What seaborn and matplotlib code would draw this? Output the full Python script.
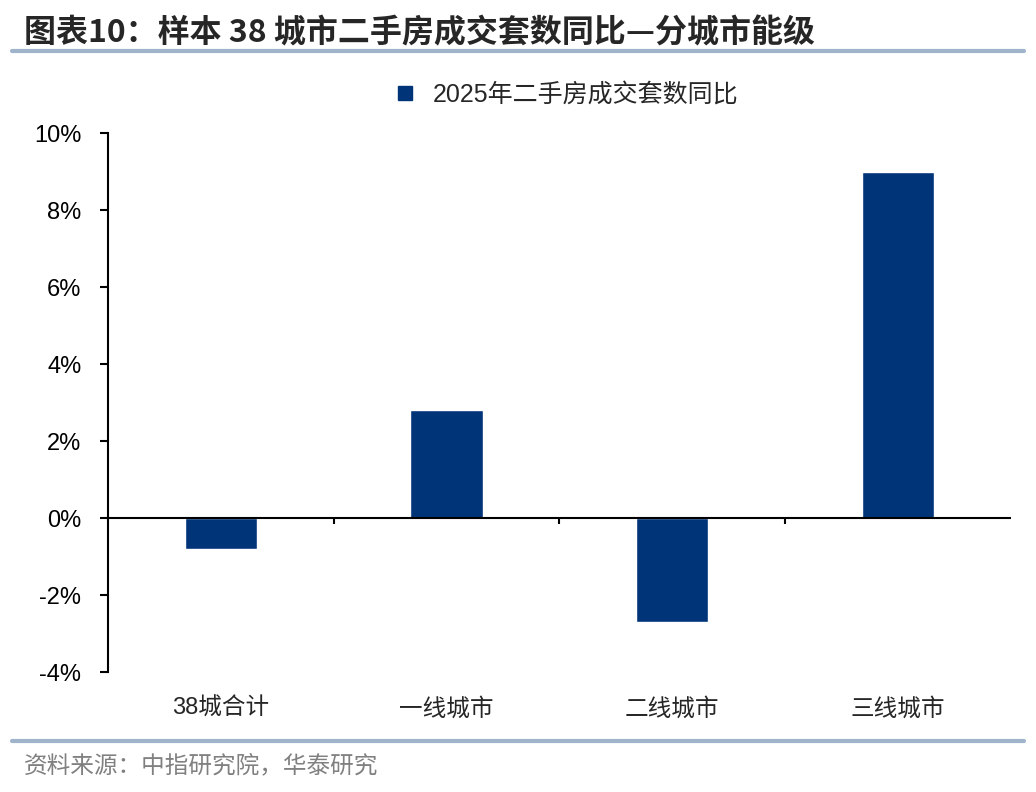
import pandas as pd
import seaborn as sns
import matplotlib.pyplot as plt
from matplotlib.lines import Line2D
from matplotlib.ticker import FuncFormatter

categories = ['38城合计', '一线城市', '二线城市', '三线城市']
yoy_2025 = [-0.8, 2.8, -2.7, 9.0]
series_name = '2025年二手房成交套数同比'
yticks = [-4, -2, 0, 2, 4, 6, 8, 10]

sns.set_theme(style='white')
plt.rcParams['font.family'] = ['Liberation Sans', 'Noto Sans CJK SC', 'DejaVu Sans']
plt.rcParams['axes.unicode_minus'] = False

navy = '#003478'
df = pd.DataFrame({'city': categories, 'yoy': yoy_2025})

fig = plt.figure(figsize=(10.36, 7.92), dpi=100)
ax = fig.add_axes([0.104, 0.151, 0.872, 0.681])

sns.barplot(data=df, x='city', y='yoy', color=navy, width=0.32, saturation=1, ax=ax)

ax.set_xlim(-0.5, len(categories) - 0.5)
ax.set_ylim(-4, 10)
ax.set_yticks(yticks)
ax.yaxis.set_major_formatter(FuncFormatter(lambda v, p: f'{v:.0f}%'))
ax.set_xlabel('')
ax.set_ylabel('')

for s in ['top', 'right', 'bottom']:
    ax.spines[s].set_visible(False)
ax.spines['left'].set_color('black')
ax.spines['left'].set_linewidth(1.5)

ax.axhline(0, color='black', lw=1.5, zorder=3)
ax.vlines([0.5, 1.5, 2.5], -0.15, 0, color='black', lw=1.5, zorder=3)

ax.tick_params(axis='y', left=True, length=6, width=1.5, direction='out',
               labelsize=17, colors='black', pad=13)
ax.tick_params(axis='x', bottom=False, labelsize=17, pad=12)
for lab in ax.get_xticklabels():
    lab.set_family(['Liberation Sans', 'Noto Sans CJK SC'])

handle = Line2D([], [], marker='s', color=navy, linestyle='none', markersize=10)
ax.legend([handle], [series_name], loc='lower center', bbox_to_anchor=(0.5, 1.03),
          frameon=False, handletextpad=0.1, borderaxespad=0,
          prop={'family': ['Liberation Sans', 'Noto Sans CJK SC'], 'size': 18})

fig.text(0.023, 0.958, '图表10：样本 38 城市二手房成交套数同比—分城市能级',
         fontsize=23, fontweight='bold', va='center', ha='left',
         family=['Noto Sans CJK SC', 'DejaVu Sans'])
fig.add_artist(Line2D([0.012, 0.988], [0.935, 0.935], transform=fig.transFigure,
                      color='#9fb4cb', lw=3))
fig.add_artist(Line2D([0.012, 0.988], [0.064, 0.064], transform=fig.transFigure,
                      color='#9fb4cb', lw=3))
fig.text(0.023, 0.033, '资料来源：中指研究院，华泰研究', fontsize=17, color='#808080',
         va='center', ha='left', family=['Noto Sans CJK SC', 'DejaVu Sans'])

fig.savefig('out.png', dpi=100)
